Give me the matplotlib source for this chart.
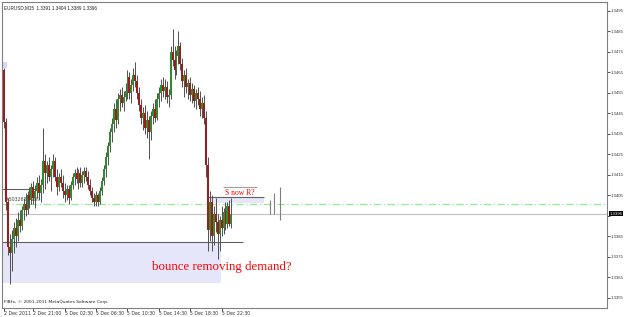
import numpy as np
import matplotlib
matplotlib.use("Agg")
import matplotlib.pyplot as plt
from matplotlib.patches import Rectangle

# EURUSD M15 bars, prices in pips (3441 -> 1.3441)
opens = [3466, 3441, 3402, 3380, 3377, 3384, 3389, 3385, 3393, 3390,
         3398, 3401, 3398, 3405, 3403, 3409, 3404, 3407, 3411, 3406,
         3410, 3422, 3416, 3420, 3414, 3418, 3422, 3414, 3409, 3414,
         3411, 3407, 3405, 3408, 3404, 3410, 3414, 3416, 3413, 3416,
         3411, 3415, 3417, 3414, 3410, 3407, 3404, 3402, 3405, 3402,
         3407, 3412, 3418, 3424, 3429, 3436, 3440, 3447, 3442, 3452,
         3454, 3450, 3453, 3456, 3463, 3455, 3459, 3464, 3461, 3455,
         3449, 3443, 3445, 3438, 3442, 3436, 3444, 3447, 3443, 3452,
         3455, 3459, 3456, 3458, 3453, 3454, 3475, 3471, 3466, 3473,
         3478, 3469, 3461, 3464, 3458, 3460, 3454, 3457, 3451, 3455,
         3452, 3447, 3450, 3443, 3420, 3388, 3402, 3385, 3396, 3392,
         3386, 3393, 3389, 3397, 3391, 3400, 3391]
highs = [3467, 3443, 3404, 3386, 3388, 3392, 3394, 3397, 3398, 3400,
         3404, 3406, 3407, 3409, 3411, 3412, 3410, 3414, 3415, 3413,
         3438, 3425, 3422, 3424, 3420, 3425, 3424, 3418, 3416, 3418,
         3415, 3411, 3410, 3410, 3412, 3416, 3418, 3419, 3418, 3419,
         3417, 3419, 3419, 3417, 3413, 3409, 3406, 3407, 3406, 3409,
         3414, 3420, 3426, 3431, 3438, 3443, 3450, 3452, 3455, 3457,
         3458, 3456, 3460, 3466, 3465, 3462, 3467, 3470, 3464, 3458,
         3452, 3448, 3449, 3446, 3444, 3446, 3450, 3452, 3455, 3458,
         3462, 3463, 3462, 3461, 3457, 3478, 3486, 3478, 3476, 3485,
         3480, 3472, 3466, 3467, 3462, 3463, 3460, 3459, 3457, 3458,
         3456, 3453, 3454, 3446, 3424, 3407, 3405, 3400, 3404, 3396,
         3395, 3400, 3399, 3402, 3402, 3403, 3404]
lows = [3438, 3398, 3376, 3362, 3368, 3377, 3380, 3383, 3387, 3388,
        3393, 3395, 3396, 3399, 3401, 3401, 3399, 3404, 3403, 3402,
        3406, 3408, 3411, 3412, 3407, 3414, 3412, 3405, 3407, 3409,
        3404, 3402, 3403, 3401, 3403, 3408, 3410, 3411, 3408, 3409,
        3409, 3411, 3412, 3408, 3405, 3402, 3400, 3400, 3400, 3401,
        3405, 3410, 3414, 3420, 3426, 3431, 3436, 3438, 3440, 3446,
        3448, 3446, 3451, 3452, 3452, 3450, 3456, 3458, 3452, 3446,
        3440, 3437, 3435, 3433, 3423, 3432, 3440, 3441, 3442, 3448,
        3451, 3453, 3452, 3450, 3448, 3452, 3468, 3462, 3464, 3469,
        3466, 3458, 3453, 3455, 3452, 3451, 3450, 3448, 3447, 3449,
        3444, 3443, 3440, 3414, 3378, 3383, 3378, 3381, 3387, 3374,
        3378, 3385, 3386, 3388, 3389, 3390, 3389]
closes = [3441, 3402, 3380, 3377, 3384, 3389, 3385, 3393, 3390, 3398,
          3401, 3398, 3405, 3403, 3409, 3404, 3407, 3411, 3406, 3410,
          3422, 3416, 3420, 3414, 3418, 3422, 3414, 3409, 3414, 3411,
          3407, 3405, 3408, 3404, 3410, 3414, 3416, 3413, 3416, 3411,
          3415, 3417, 3414, 3410, 3407, 3404, 3402, 3405, 3402, 3407,
          3412, 3418, 3424, 3429, 3436, 3440, 3447, 3442, 3452, 3454,
          3450, 3453, 3456, 3463, 3455, 3459, 3464, 3461, 3455, 3449,
          3443, 3445, 3438, 3442, 3436, 3444, 3447, 3443, 3452, 3455,
          3459, 3456, 3458, 3453, 3454, 3475, 3471, 3466, 3473, 3478,
          3469, 3461, 3464, 3458, 3460, 3454, 3457, 3451, 3455, 3452,
          3447, 3450, 3443, 3420, 3388, 3402, 3385, 3396, 3392, 3386,
          3393, 3389, 3397, 3391, 3400, 3391, 3396]

tick_bars = [0, 15, 31, 47, 63, 79, 95, 111]
tick_labels = ["2 Dec 2011", "2 Dec 21:00", "5 Dec 02:30", "5 Dec 06:30",
               "5 Dec 10:30", "5 Dec 14:30", "5 Dec 18:30", "5 Dec 22:30"]
price_ticks = [3355, 3365, 3375, 3385, 3395, 3405, 3415, 3425, 3435,
               3445, 3455, 3465, 3475, 3485, 3495]

bid = 3396
order_level = 3401
old_level = 3408          # short line at left
demand_top, demand_bottom = 3382.5, 3362.5
snr_top, snr_bottom, snr_line = 3404.3, 3401.3, 3409
# grey vertical lines to the right of the last bar
vl_bars = [135.7, 137.8, 140.8]
vl_low = [3396, 3396, 3393]
vl_high = [3403, 3406, 3409]

def px(v):
    return 1 + np.asarray(v, dtype=float) / 10000.0

o, h, l, c = px(opens), px(highs), px(lows), px(closes)
idx = np.arange(len(c))

fig = plt.figure(figsize=(6.25, 3.17), dpi=100)
fig.patch.set_facecolor("white")
ax = fig.add_axes([2 / 625, 9 / 317, 605 / 625, 306 / 317])
ax.set_xlim(-1.02, 307.65)
ax.set_ylim(1.335012, 1.349939)

# demand zone
ax.add_patch(Rectangle((-1.02, px(demand_bottom)), 110.7 + 1.02,
                       px(demand_top) - px(demand_bottom),
                       facecolor="#e6e6fa", edgecolor="none", zorder=0))
ax.hlines(px(demand_top), -1.02, 122, color="#606060", lw=0.8, zorder=1)
ax.hlines(px(old_level), -1.02, 17.3, color="#606060", lw=0.8, zorder=1)

# S now R box
ax.add_patch(Rectangle((104, px(snr_bottom)), 28.6, px(snr_top) - px(snr_bottom),
                       facecolor="#e6e6fa", edgecolor="none", zorder=0))
ax.hlines(px(snr_top), 104, 132.6, color="#606060", lw=0.8, zorder=1)
ax.hlines(px(snr_line), 111.7, 129, color="#a0a0a0", lw=0.8, zorder=1)
ax.text(112.5, px(3406.2), "S now R?", color="red", fontsize=5.5,
        family="Liberation Serif", va="center", ha="left")

# small marker top left
ax.add_patch(Rectangle((-1.02, px(3467)), 2.5, px(3470) - px(3467),
                       facecolor="#d8d8f4", edgecolor="none", zorder=0))

# bid line and order line
ax.axhline(px(bid), color="#c0c0c0", lw=0.8, zorder=1)
ax.axhline(px(order_level), color="#90ee90", lw=0.9, ls=(0, (6, 2, 1, 2)), zorder=1)
ax.text(0.3, px(order_level) + 0.00006, "#5032623 sell", fontsize=3.3,
        color="#404040", va="bottom", ha="left")

# candles
ax.vlines(idx, l, h, color="#505050", lw=0.7, zorder=2)
up = c >= o
body_low = np.minimum(o, c)
body_h = np.maximum(np.abs(c - o), 0.00003)
ax.bar(idx[up], body_h[up], bottom=body_low[up], width=1.0,
       color="#2e8b2e", zorder=3, linewidth=0)
ax.bar(idx[~up], body_h[~up], bottom=body_low[~up], width=1.0,
       color="#a01c1c", zorder=3, linewidth=0)

ax.vlines(vl_bars, px(vl_low), px(vl_high), color="#808080", lw=0.8, zorder=2)

# annotation
ax.text(75.5, px(3370), "bounce removing demand?", color="red", fontsize=9.3,
        family="Liberation Serif", va="center", ha="left")

ax.text(0.004, 0.988, "EURUSD,M15  1.3391 1.3404 1.3389 1.3396", transform=ax.transAxes,
        fontsize=3.3, family="Liberation Sans", color="#202020", va="top", ha="left")
ax.text(0.003, 0.012, "FIBfx, \u00a9 2001-2011 MetaQuotes Software Corp.",
        transform=ax.transAxes, fontsize=3.2, color="#202020", va="bottom", ha="left")

# axes styling
for s in ax.spines.values():
    s.set_color("#808080")
    s.set_linewidth(0.8)
ax.yaxis.tick_right()
ax.set_yticks(px(price_ticks))
# 1.3395 sits under the bid price box
ax.set_yticklabels(["" if v == 3395 else f"{1 + v / 10000:.4f}" for v in price_ticks],
                   family="Liberation Sans")
ax.tick_params(axis="y", direction="out", length=1.8, width=0.6, pad=0.6,
               labelsize=3.1, colors="#303030")
ax.set_xticks(tick_bars)
ax.set_xticklabels(tick_labels, ha="left")
ax.tick_params(axis="x", direction="out", length=2.0, width=0.6, pad=0.5,
               labelsize=3.3, colors="#303030")

ax.text(1.004, px(bid), f"{px(bid):.4f}", transform=ax.get_yaxis_transform(),
        fontsize=3.1, family="Liberation Sans", color="white", va="center",
        ha="left", zorder=5,
        bbox=dict(boxstyle="square,pad=0.12", facecolor="black", edgecolor="none"))

fig.savefig("out.png", dpi=100, facecolor="white")
